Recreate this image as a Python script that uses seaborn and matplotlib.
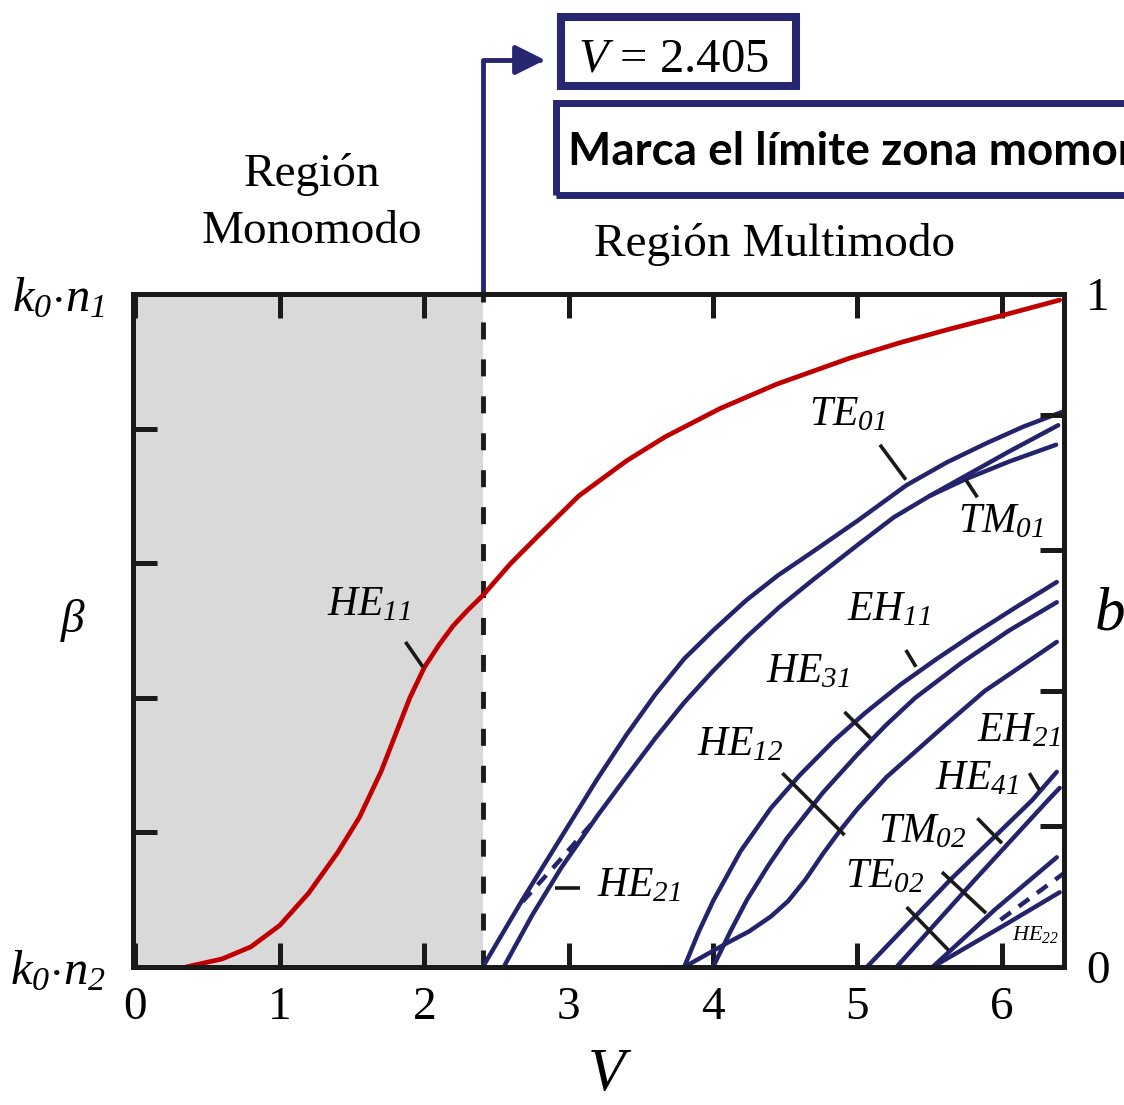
import numpy as np
import matplotlib
matplotlib.use('Agg')
import matplotlib.pyplot as plt
from matplotlib.patches import Rectangle
import seaborn as sns

# --- curves (V, b) ---
he11_v = [0.35, 0.60, 0.80, 1.00, 1.20, 1.40, 1.55, 1.70, 1.80, 1.90, 2.00, 2.10, 2.20, 2.30, 2.405,
          2.60, 2.80, 3.07, 3.40, 3.67, 4.05, 4.44, 4.95, 5.30, 5.64, 6.00, 6.40]
he11_b = [0.0, 0.012, 0.030, 0.062, 0.110, 0.170, 0.222, 0.290, 0.345, 0.400, 0.445, 0.478, 0.507, 0.530, 0.552,
          0.600, 0.643, 0.700, 0.752, 0.788, 0.830, 0.866, 0.905, 0.928, 0.948, 0.968, 0.991]

te01_v = [2.405, 2.68, 2.94, 3.20, 3.40, 3.60, 3.80, 4.00, 4.23, 4.45, 4.69, 5.00, 5.34, 5.62, 5.90, 6.15, 6.42]
te01_b = [0.0, 0.100, 0.190, 0.280, 0.345, 0.405, 0.458, 0.500, 0.545, 0.582, 0.617, 0.663, 0.716, 0.750, 0.779, 0.803, 0.825]

tm01_v = [2.55, 2.75, 2.95, 3.20, 3.40, 3.60, 3.80, 4.00, 4.23, 4.46, 4.69, 5.00, 5.25, 5.50, 5.75, 6.05, 6.39]
tm01_b = [0.0, 0.078, 0.148, 0.225, 0.283, 0.340, 0.393, 0.440, 0.490, 0.535, 0.575, 0.627, 0.668, 0.700, 0.730, 0.766, 0.805]

tm01b_v = [5.50, 5.75, 6.05, 6.375]
tm01b_b = [0.700, 0.725, 0.751, 0.776]

he21_v = [2.68, 2.94, 3.20]
he21_b = [0.097, 0.159, 0.223]

eh11_v = [3.80, 3.90, 4.00, 4.19, 4.40, 4.60, 4.83, 5.05, 5.30, 5.55, 5.80, 6.10, 6.38]
eh11_b = [0.0, 0.052, 0.098, 0.172, 0.236, 0.285, 0.335, 0.377, 0.420, 0.458, 0.494, 0.535, 0.572]

he31_v = [4.0, 4.12, 4.235, 4.38, 4.51, 4.76, 5.00, 5.20, 5.40, 5.72, 6.05, 6.38]
he31_b = [0.0, 0.053, 0.100, 0.150, 0.191, 0.259, 0.316, 0.360, 0.400, 0.452, 0.500, 0.542]

he12_v = [3.80, 3.95, 4.10, 4.25, 4.40, 4.52, 4.64, 4.76, 4.88, 5.00, 5.20, 5.40, 5.60, 5.88, 6.10, 6.38]
he12_b = [0.0, 0.018, 0.036, 0.053, 0.075, 0.098, 0.130, 0.168, 0.203, 0.235, 0.282, 0.320, 0.358, 0.410, 0.442, 0.483]

eh21_v = [5.065, 5.64, 6.21, 6.38]
eh21_b = [0.0, 0.129, 0.248, 0.290]

tm02_v = [5.27, 5.81, 6.32, 6.40]
tm02_b = [0.0, 0.129, 0.248, 0.266]

te02_v = [5.52, 5.95, 6.38]
te02_b = [0.0, 0.085, 0.163]

he41_v = [5.52, 6.0, 6.40]
he41_b = [0.0, 0.060, 0.111]

he22_v = [5.99, 6.44]
he22_b = [0.070, 0.141]

v_cut = 2.405
x_ticks = [0, 1, 2, 3, 4, 5, 6]

# mode labels: text, V, b, size
labels = [
    ('HE_{11}', 1.62, 0.538, 30),
    ('TE_{01}', 4.93, 0.820, 30),
    ('TM_{01}', 5.99, 0.661, 30),
    ('EH_{11}', 5.22, 0.530, 30),
    ('HE_{31}', 4.66, 0.438, 30),
    ('HE_{12}', 4.19, 0.330, 30),
    ('HE_{21}', 3.49, 0.120, 30),
    ('EH_{21}', 6.12, 0.351, 30),
    ('HE_{41}', 5.83, 0.279, 30),
    ('TM_{02}', 5.45, 0.200, 30),
    ('TE_{02}', 5.19, 0.134, 30),
    ('HE_{22}', 6.23, 0.048, 16),
]
# short leader marks (V0, b0, V1, b1)
pointers = [
    (1.87, 0.483, 1.99, 0.446),
    (5.155, 0.776, 5.335, 0.724),
    (5.75, 0.724, 5.83, 0.698),
    (5.335, 0.471, 5.405, 0.446),
    (4.91, 0.379, 5.09, 0.340),
    (4.48, 0.288, 4.91, 0.196),
    (2.905, 0.117, 3.08, 0.117),
    (6.19, 0.288, 6.26, 0.263),
    (5.83, 0.221, 6.00, 0.184),
    (5.585, 0.141, 5.89, 0.080),
    (5.34, 0.089, 5.63, 0.025),
]

sns.set_theme(style='white')
plt.rcParams['font.family'] = ['Liberation Serif', 'DejaVu Serif']
plt.rcParams['mathtext.fontset'] = 'custom'
plt.rcParams['mathtext.rm'] = 'Liberation Serif:italic'
plt.rcParams['mathtext.it'] = 'Liberation Serif:italic'
plt.rcParams['mathtext.bf'] = 'Liberation Serif:bold'
plt.rcParams['text.color'] = 'black'
plt.rcParams['xtick.color'] = 'black'
plt.rcParams['ytick.color'] = 'black'
plt.rcParams['axes.labelcolor'] = 'black'

red = '#c00000'
navy = '#24246c'
box_c = '#262671'

W, H = 1124, 1105
fig = plt.figure(figsize=(W / 100, H / 100), dpi=100)
ax = fig.add_axes([133 / W, 1 - 967 / H, (1064 - 133) / W, (967 - 294) / H])

ax.axvspan(-0.02, v_cut, color='#d9d9d9', lw=0, zorder=0)
ax.axvline(v_cut, color='k', lw=3.5, ls=(0, (3.5, 4.1)), zorder=1)

sns.lineplot(x=he11_v, y=he11_b, ax=ax, color=red, lw=3.4, sort=False, estimator=None)
solid = [(te01_v, te01_b), (tm01_v, tm01_b), (tm01b_v, tm01b_b),
         (eh11_v, eh11_b), (he31_v, he31_b), (he12_v, he12_b),
         (eh21_v, eh21_b), (tm02_v, tm02_b), (te02_v, te02_b), (he41_v, he41_b)]
for vv, bb in solid:
    sns.lineplot(x=vv, y=bb, ax=ax, color=navy, lw=3.2, sort=False, estimator=None)
for vv, bb in [(he21_v, he21_b), (he22_v, he22_b)]:
    l = ax.plot(vv, bb, color=navy, lw=3.2, ls=(0, (2.9, 2.2)))
    l[0].set_clip_on(False)

for t, v, b, s in labels:
    ax.text(v, b, '$' + t + '$', fontsize=s, ha='center', va='center')
for x0, y0, x1, y1 in pointers:
    ax.plot([x0, x1], [y0, y1], color='k', lw=2.6, solid_capstyle='butt')

ax.set_xlim(-0.017, 6.43)
ax.set_ylim(0, 1)
ax.set_xticks(x_ticks)
ax.set_xticklabels([str(t) for t in x_ticks])
ax.set_yticks([0, 0.2, 0.4, 0.6, 0.8, 1])
ax.set_yticklabels([r'$k_0{\cdot}n_2$', '', '', '', '', r'$k_0{\cdot}n_1$'])
ax.tick_params(axis='both', direction='in', length=17, width=3.6, color='k',
               labelsize=34, pad=14, top=True, left=True, bottom=True, right=False)
ax.tick_params(axis='y', labelsize=35, pad=20)
for s in ax.spines.values():
    s.set_linewidth(3.6)
    s.set_color('k')
    s.set_zorder(5)

ax.set_xlabel('$V$', fontsize=44, va='top')
ax.xaxis.set_label_coords(0.512, -0.12)
ax.set_ylabel(r'$\beta$', fontsize=34, rotation=0, va='center', ha='center')
ax.yaxis.set_label_coords(-0.064, 0.515)

ax2 = ax.twinx()
ax2.set_ylim(0, 1)
ax2.set_yticks([0, 0.21, 0.41, 0.62, 0.82, 1])
ax2.set_yticklabels(['0', '', '', '', '', '1'])
ax2.tick_params(axis='y', direction='in', length=17, width=3.6, color='k', labelsize=34, pad=16)
ax2.set_ylabel('$b$', fontsize=44, rotation=0, va='center', ha='center')
ax2.yaxis.set_label_coords(1.049, 0.523)
for s in ax2.spines.values():
    s.set_linewidth(3.6)
    s.set_color('k')
ax2.grid(False)

# region captions
fig.text(312 / W, 1 - 175 / H, 'Región', fontsize=34, ha='center', va='center')
fig.text(312 / W, 1 - 232 / H, 'Monomodo', fontsize=34, ha='center', va='center')
fig.text(775 / W, 1 - 245 / H, 'Región Multimodo', fontsize=34, ha='center', va='center')

# boxes and arrow to V = 2.405
fig.add_artist(Rectangle((561 / W, 1 - 86 / H), (796 - 561) / W, (86 - 17) / H,
                         transform=fig.transFigure, fill=False, ec=box_c, lw=5.8))
fig.text(578 / W, 1 - 72 / H, '$V$ = 2.405', fontsize=35, ha='left', va='baseline')
fig.add_artist(Rectangle((555.5 / W, 1 - 194.5 / H), 600 / W, (194.5 - 103.5) / H,
                         transform=fig.transFigure, fill=False, ec=box_c, lw=5.0))
fig.text(568 / W, 1 - 165 / H, 'Marca el límite zona momonodo', fontsize=33,
         fontweight='bold', family=['Lato', 'DejaVu Sans'], color='black',
         ha='left', va='baseline')

ax.annotate('', xy=(545 / W, 1 - 60 / H), xycoords='figure fraction',
            xytext=(v_cut, 1.0), textcoords='data', annotation_clip=False,
            arrowprops=dict(arrowstyle='-|>,head_length=0.9,head_width=0.45',
                            connectionstyle='angle,angleA=90,angleB=0,rad=0',
                            color=box_c, lw=3.5, mutation_scale=20,
                            shrinkA=0, shrinkB=0))

fig.savefig('out.png', dpi=100)
